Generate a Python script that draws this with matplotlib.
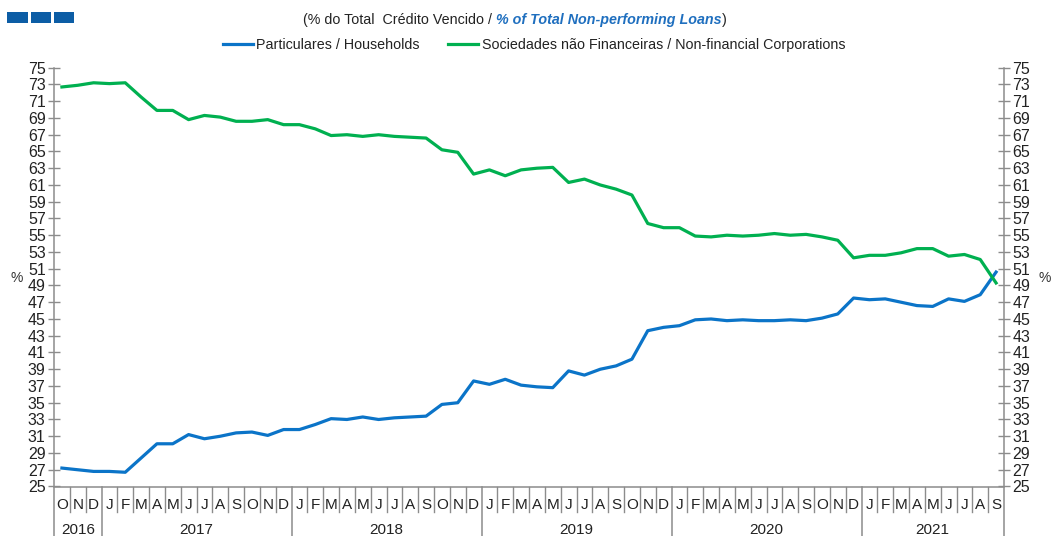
import matplotlib
matplotlib.use("Agg")
import matplotlib.pyplot as plt
from matplotlib.transforms import blended_transform_factory
from matplotlib.patches import Rectangle

plt.rcParams['font.family'] = ['Liberation Sans', 'DejaVu Sans']

months = ["O", "N", "D"] + ["J", "F", "M", "A", "M", "J", "J", "A", "S", "O", "N", "D"] * 4 + \
         ["J", "F", "M", "A", "M", "J", "J", "A", "S"]
years = ["2016", "2017", "2018", "2019", "2020", "2021"]
year_counts = [3, 12, 12, 12, 12, 9]

households = [27.2, 27.0, 26.8, 26.8, 26.7, 28.4, 30.1, 30.1, 31.2, 30.7,
              31.0, 31.4, 31.5, 31.1, 31.8, 31.8, 32.4, 33.1, 33.0, 33.3,
              33.0, 33.2, 33.3, 33.4, 34.8, 35.0, 37.6, 37.2, 37.8, 37.1,
              36.9, 36.8, 38.8, 38.3, 39.0, 39.4, 40.2, 43.6, 44.0, 44.2,
              44.9, 45.0, 44.8, 44.9, 44.8, 44.8, 44.9, 44.8, 45.1, 45.6,
              47.5, 47.3, 47.4, 47.0, 46.6, 46.5, 47.4, 47.1, 47.9, 50.6]
corporations = [72.7, 72.9, 73.2, 73.1, 73.2, 71.5, 69.9, 69.9, 68.8, 69.3,
                69.1, 68.6, 68.6, 68.8, 68.2, 68.2, 67.7, 66.9, 67.0, 66.8,
                67.0, 66.8, 66.7, 66.6, 65.2, 64.9, 62.3, 62.8, 62.1, 62.8,
                63.0, 63.1, 61.3, 61.7, 61.0, 60.5, 59.8, 56.4, 55.9, 55.9,
                54.9, 54.8, 55.0, 54.9, 55.0, 55.2, 55.0, 55.1, 54.8, 54.4,
                52.3, 52.6, 52.6, 52.9, 53.4, 53.4, 52.5, 52.7, 52.1, 49.3]
yticks = list(range(25, 76, 2))

W, H = 1052, 536
fig = plt.figure(figsize=(W / 100, H / 100), dpi=100)
L, R, B, T = 54, 1004, 486.5, 67.7
ax = fig.add_axes([L / W, (H - B) / H, (R - L) / W, (B - T) / H])

blue = "#0B74C8"
green = "#00B050"
gray = "#8C8C8C"
x = list(range(len(months)))
l1, = ax.plot(x, households, color=blue, lw=2.3, solid_joinstyle='round')
l2, = ax.plot(x, corporations, color=green, lw=2.3, solid_joinstyle='round')

ax.set_xlim(-0.5, len(months) - 0.5)
ax.set_ylim(25, 75)
ax.set_yticks(yticks)
ax.set_yticklabels([str(v) for v in yticks])
ax.yaxis.set_ticks_position('both')
ax.tick_params(axis='y', which='both', direction='inout', length=8, width=1,
               color=gray, labelsize=11.5, labelcolor="#222222", pad=2,
               labelleft=True, labelright=True)
ax.set_xticks(x)
ax.set_xticklabels(months)
ax.tick_params(axis='x', length=0, labelsize=11, labelcolor="#222222", pad=8)
for s in ['left', 'right', 'bottom']:
    ax.spines[s].set_color(gray)
    ax.spines[s].set_linewidth(1.1)
ax.spines['top'].set_visible(False)

trans = blended_transform_factory(ax.transData, ax.transAxes)
ax_h = B - T
month_drop = 25 / ax_h
year_drop = 50 / ax_h
boundaries = [-0.5]
acc = -0.5
for c in year_counts:
    acc += c
    boundaries.append(acc)
for i in range(1, len(months)):
    xb = i - 0.5
    if xb in boundaries:
        continue
    ax.plot([xb, xb], [0, -month_drop], transform=trans, color=gray, lw=1, clip_on=False)
for xb in boundaries:
    ax.plot([xb, xb], [0, -year_drop], transform=trans, color=gray, lw=1.1, clip_on=False)
start = 0
for yr, c in zip(years, year_counts):
    center = start + (c - 1) / 2
    ax.text(center, -43.5 / ax_h, yr, transform=trans, ha='center', va='center',
            fontsize=11, color="#222222")
    start += c

# % labels
fig.text(17 / W, 1 - 278 / H, "%", ha='center', va='center', fontsize=10, color="#333333")
fig.text(1045 / W, 1 - 278 / H, "%", ha='center', va='center', fontsize=10, color="#333333")

# logo rectangles
for x0, x1 in [(7, 28), (31, 51), (54, 74)]:
    fig.patches.append(Rectangle((x0 / W, 1 - 23 / H), (x1 - x0) / W, 11 / H,
                                 transform=fig.transFigure, color="#0C5DA5", lw=0))

# title (mixed style)
renderer = fig.canvas.get_renderer()
parts = [("(% do Total  Crédito Vencido / ", dict(color="#222222")),
         ("% of Total Non-performing Loans", dict(color="#1F6FBF", fontweight='bold', style='italic')),
         (")", dict(color="#222222"))]
texts = []
for s, kw in parts:
    t = fig.text(0, 1 - 20 / H, s, fontsize=10.3, va='center', ha='left', **kw)
    texts.append(t)
widths = [t.get_window_extent(renderer).width for t in texts]
total = sum(widths)
xpos = 515 - total / 2
for t, w in zip(texts, widths):
    t.set_x(xpos / W)
    xpos += w

leg = fig.legend([l1, l2], ["Particulares / Households",
                            "Sociedades não Financeiras / Non-financial Corporations"],
                 loc='center', bbox_to_anchor=(534 / W, 1 - 45 / H), ncol=2, frameon=False,
                 fontsize=10.3, handlelength=2.1, handletextpad=0.25, columnspacing=2.0)
for t in leg.get_texts():
    t.set_color("#222222")

fig.savefig("out.png", dpi=100)
